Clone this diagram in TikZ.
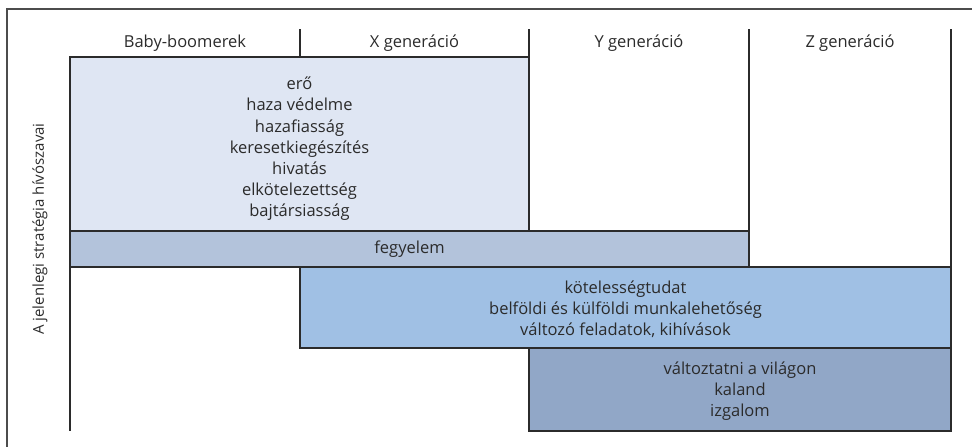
\documentclass[tikz,border=0pt]{standalone}
\usepackage{fontspec}
\setmainfont{Open Sans}
\usetikzlibrary{positioning}
\definecolor{boxa}{HTML}{DFE6F3}
\definecolor{boxb}{HTML}{B3C3DB}
\definecolor{boxc}{HTML}{A0C0E4}
\definecolor{boxd}{HTML}{91A7C7}
\definecolor{ink}{HTML}{2B2B2B}
\tikzset{
  frame/.style={draw=black!70,line width=1.4pt},
  rule/.style={draw=ink,line width=1.1pt},
  bar/.style={draw=ink,line width=1.2pt},
  lbl/.style={text=ink,align=center,inner sep=0pt,font=\fontsize{16.5}{21.2}\selectfont}
}
\begin{document}
\begin{tikzpicture}[x=1pt,y=-1pt]
\useasboundingbox (0,0) rectangle (972,447);
%frame
\draw[frame] (7,447) -- (7,9) -- (972,9);
%column rules
\draw[rule] (300,29) -- (300,57);
\draw[rule] (529,29) -- (529,57);
\draw[rule] (749,29) -- (749,231);
\draw[rule] (951,29) -- (951,267);
\draw[rule] (70,57) -- (70,431);
%bars
\filldraw[bar,fill=boxa] (70,57) rectangle (529,231);
\filldraw[bar,fill=boxb] (70,231) rectangle (749,267);
\filldraw[bar,fill=boxc] (300,267) rectangle (951,348);
\filldraw[bar,fill=boxd] (529,348) rectangle (951,431);
%headers
\node[lbl] (boomer) at (185,43) {Baby-boomerek};
\node[lbl] (genx) at (414.5,43) {X generáció};
\node[lbl] (geny) at (639,43) {Y generáció};
\node[lbl] (genz) at (850,43) {Z generáció};
%side label
\node[lbl,rotate=90,font=\fontsize{15}{18}\selectfont] (side) at (40,229) {A jelenlegi stratégia hívószavai};
%words
\node[lbl] (old) at (299.5,149) {erő\\haza védelme\\hazafiasság\\keresetkiegészítés\\hivatás\\elkötelezettség\\bajtársiasság};
\node[lbl] (disc) at (409.5,249) {fegyelem};
\node[lbl] (duty) at (625.5,309) {kötelességtudat\\belföldi és külföldi munkalehetőség\\változó feladatok, kihívások};
\node[lbl] (young) at (740,391) {változtatni a világon\\kaland\\izgalom};
\end{tikzpicture}
\end{document}
